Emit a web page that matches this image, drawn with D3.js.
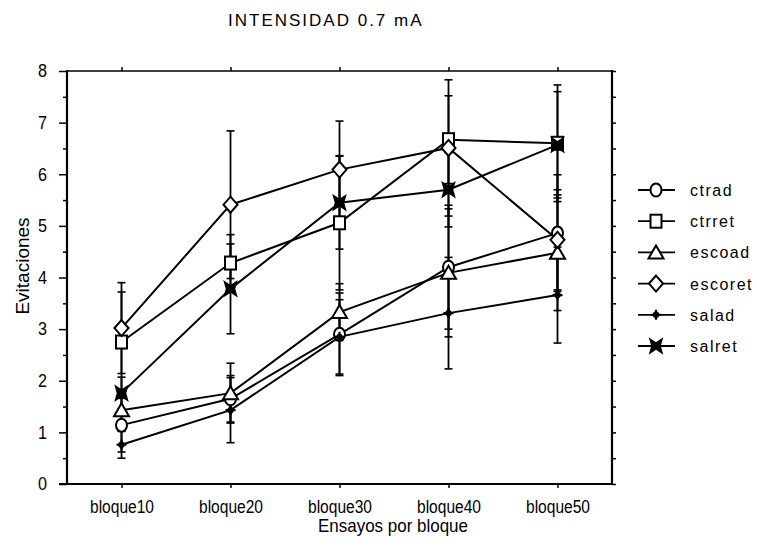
<!DOCTYPE html>
<html><head><meta charset="utf-8">
<script src="https://cdn.jsdelivr.net/npm/d3@7"></script>
<style>body{margin:0;background:#fff}svg{display:block}</style>
</head><body>
<svg id="c" width="757" height="547"></svg>
<script>
const categories = ["bloque10","bloque20","bloque30","bloque40","bloque50"];
const seriesNames = ["ctrad","ctrret","escoad","escoret","salad","salret"];
const ctrad    = [1.14, 1.65, 2.90, 4.20, 4.86];
const ctrret   = [2.75, 4.28, 5.06, 6.67, 6.60];
const escoad   = [1.43, 1.76, 3.33, 4.09, 4.48];
const escoret  = [3.02, 5.41, 6.09, 6.51, 4.73];
const salad    = [0.76, 1.43, 2.85, 3.31, 3.66];
const salret   = [1.76, 3.78, 5.45, 5.70, 6.57];
const ctradErr   = [0.52, 0.45, 0.80, 1.20, 1.13];
const ctrretErr  = [0.97, 0.55, 1.30, 0.85, 1.13];
const escoadErr  = [0.40, 0.58, 0.55, 1.24, 1.12];
const escoretErr = [0.88, 1.43, 0.94, 1.32, 0.97];
const saladErr   = [0.26, 0.63, 0.72, 1.08, 0.93];
const salretErr  = [0.31, 0.87, 0.90, 0.72, 1.03];
const yTicks = [0,1,2,3,4,5,6,7,8];
const title = "INTENSIDAD 0.7 mA";
const xTitle = "Ensayos por bloque";
const yTitle = "Evitaciones";

const values = [ctrad, ctrret, escoad, escoret, salad, salret];
const errs = [ctradErr, ctrretErr, escoadErr, escoretErr, saladErr, salretErr];
const series = seriesNames.map((n,i)=>({name:n, vals:values[i], errs:errs[i]}));

const svg = d3.select("#c");
const L=67, R=612, T=71, B=484;
const x = d3.scalePoint().domain(categories).range([L,R]).padding(0.5);
const y = d3.scaleLinear().domain([0,8]).range([B,T]);
const reg = "'Liberation Sans',Arial,sans-serif";

// title
svg.append("text").attr("x",228).attr("y",26).attr("font-family",reg).attr("font-size",17)
  .attr("letter-spacing","2px").text(title);

// axes
const halves = d3.range(0,8.01,0.5);
const gL = svg.append("g").attr("transform",`translate(${L},0)`)
  .call(d3.axisLeft(y).tickValues(yTicks).tickSize(8).tickPadding(12).tickFormat(d3.format("d")));
const gLm = svg.append("g").attr("transform",`translate(${L},0)`)
  .call(d3.axisLeft(y).tickValues(halves.filter(v=>v%1!==0)).tickSize(4).tickFormat(""));
const gR = svg.append("g").attr("transform",`translate(${R},0)`)
  .call(d3.axisRight(y).tickValues(halves).tickSize(4).tickFormat(""));
const gT = svg.append("g").attr("transform",`translate(0,${T})`)
  .call(d3.axisTop(x).tickSize(4).tickFormat(""));
const gB = svg.append("g").attr("transform",`translate(0,${B})`)
  .call(d3.axisBottom(x).tickSize(4).tickPadding(12));
[gL,gLm,gR,gT,gB].forEach(g=>{g.select(".domain").remove(); g.selectAll("line").attr("stroke","#000").attr("stroke-width",1.5);});
gL.selectAll("text").attr("font-family",reg).attr("font-size",18).attr("fill","#000")
  .attr("textLength",9).attr("lengthAdjust","spacingAndGlyphs");
gB.selectAll("text").attr("font-family",reg).attr("font-size",18).attr("fill","#000")
  .attr("textLength",64).attr("lengthAdjust","spacingAndGlyphs");

// frame
svg.append("line").attr("x1",L).attr("x2",L).attr("y1",T-1).attr("y2",B).attr("stroke","#000").attr("stroke-width",2.2);
svg.append("line").attr("x1",R).attr("x2",R).attr("y1",T-1).attr("y2",B+1).attr("stroke","#000").attr("stroke-width",2.2);
svg.append("line").attr("x1",L).attr("x2",R).attr("y1",T).attr("y2",T).attr("stroke","#000").attr("stroke-width",1.6);
svg.append("line").attr("x1",59).attr("x2",R).attr("y1",B).attr("y2",B).attr("stroke","#000").attr("stroke-width",1.8);

// axis titles
svg.append("text").attr("x",393).attr("y",532).attr("text-anchor","middle").attr("font-family",reg)
  .attr("font-size",19).attr("textLength",150).attr("lengthAdjust","spacingAndGlyphs").text(xTitle);
svg.append("text").attr("transform","translate(29,266) rotate(-90)").attr("text-anchor","middle")
  .attr("font-family",reg).attr("font-size",19).text(yTitle);

// error bars
const eb = svg.append("g");
series.forEach(s=>{
  s.vals.forEach((v,i)=>{
    const cx = x(categories[i]);
    const e = s.errs[i];
    eb.append("line").attr("x1",cx).attr("x2",cx).attr("y1",y(v+e)).attr("y2",y(v-e)).attr("stroke","#000").attr("stroke-width",1.8);
    [v+e, v-e].forEach(t=>eb.append("line").attr("x1",cx-4).attr("x2",cx+4).attr("y1",y(t)).attr("y2",y(t)).attr("stroke","#000").attr("stroke-width",1.6));
  });
});

// lines
const line = d3.line().x((d,i)=>x(categories[i])).y(d=>y(d));
svg.append("g").selectAll("path").data(series).join("path")
  .attr("d",d=>line(d.vals)).attr("fill","none").attr("stroke","#000").attr("stroke-width",2);

// markers
function marker(g, name){
  if(name==="ctrad"){ g.append("ellipse").attr("rx",5.5).attr("ry",6.5).attr("fill","#fff").attr("stroke","#000").attr("stroke-width",2); }
  else if(name==="ctrret"){ g.append("rect").attr("x",-5.5).attr("y",-6.5).attr("width",11).attr("height",13).attr("fill","#fff").attr("stroke","#000").attr("stroke-width",2); }
  else if(name==="escoad"){ g.append("path").attr("d","M0,-7 L7.5,6 L-7.5,6 Z").attr("fill","#fff").attr("stroke","#000").attr("stroke-width",2); }
  else if(name==="escoret"){ g.append("path").attr("d","M0,-8 L7,0 L0,8 L-7,0 Z").attr("fill","#fff").attr("stroke","#000").attr("stroke-width",2); }
  else if(name==="salad"){
    g.append("circle").attr("r",3.2).attr("fill","#000");
    g.append("path").attr("d","M-5,0 H5 M0,-5 V5").attr("stroke","#000").attr("stroke-width",2.2);
  }
  else if(name==="salret"){ g.append("path").attr("d","M-6,-7 L0,-3 L6,-7 L4,0 L6,7 L0,3 L-6,7 L-4,0 Z").attr("fill","#000").attr("stroke","#000").attr("stroke-width",1.5); }
}
const mg = svg.append("g");
series.forEach(s=>{
  s.vals.forEach((v,i)=>{
    const g = mg.append("g").attr("transform",`translate(${x(categories[i])},${y(v)})`);
    marker(g, s.name);
  });
});

// legend
const legY = d3.scalePoint().domain(seriesNames).range([190,346]);
seriesNames.forEach(n=>{
  const ly = legY(n);
  svg.append("line").attr("x1",638).attr("x2",675).attr("y1",ly).attr("y2",ly).attr("stroke","#000").attr("stroke-width",1.8);
  marker(svg.append("g").attr("transform",`translate(656,${ly})`), n);
  svg.append("text").attr("x",690).attr("y",ly+6).attr("font-family",reg).attr("font-size",16)
    .attr("letter-spacing","1.5px").text(n);
});
</script>
</body></html>
